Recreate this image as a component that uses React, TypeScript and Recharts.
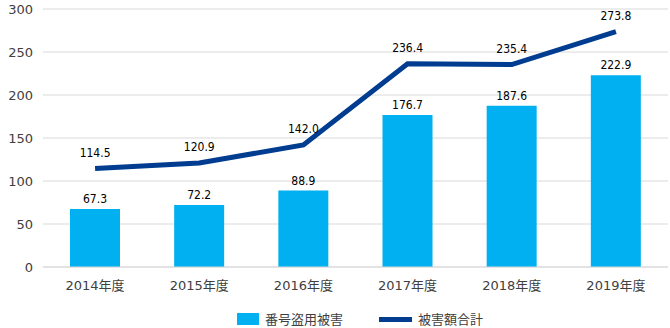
import { ComposedChart, Bar, Line, XAxis, YAxis, CartesianGrid, Legend, LabelList } from "recharts";

const years = ["2014年度", "2015年度", "2016年度", "2017年度", "2018年度", "2019年度"];
const theft = [67.3, 72.2, 88.9, 176.7, 187.6, 222.9];
const total = [114.5, 120.9, 142.0, 236.4, 235.4, 273.8];
const yTicks = [0, 50, 100, 150, 200, 250, 300];

const BAR = "#00B0F0";
const LINE = "#003C8F";
const labelFont = "'DejaVu Sans Condensed', 'Noto Sans CJK JP', sans-serif";

const data = years.map((y, i) => ({ year: y, theft: theft[i], total: total[i] }));

function LegendBox() {
  return (
    <div style={{ display: "flex", justifyContent: "center", gap: 36, paddingLeft: 52, marginTop: 15, lineHeight: "14px", fontSize: 13, color: "#404040", fontFamily: "'Noto Sans CJK JP', sans-serif" }}>
      <span style={{ display: "flex", alignItems: "center", gap: 6 }}>
        <span style={{ width: 22, height: 12, background: BAR, display: "inline-block" }} />
        番号盗用被害
      </span>
      <span style={{ display: "flex", alignItems: "center", gap: 6 }}>
        <span style={{ width: 33, height: 5, background: LINE, display: "inline-block" }} />
        被害額合計
      </span>
    </div>
  );
}

export default function App() {
  return (
    <div style={{ position: "absolute", left: 0, top: 0, width: 670, height: 328, background: "#fff" }}>
      <ComposedChart width={670} height={328} data={data} margin={{ top: 9, right: 2, left: 0, bottom: 0 }}>
        <CartesianGrid vertical={false} stroke="#d9d9d9" />
        <XAxis
          dataKey="year"
          tickLine={false}
          axisLine={{ stroke: "#d9d9d9" }}
          tick={{ fontSize: 13, fill: "#404040", fontFamily: "'DejaVu Sans', 'Noto Sans CJK JP', sans-serif" }}
          tickMargin={8}
          height={30}
        />
        <YAxis
          domain={[0, 300]}
          ticks={yTicks}
          width={43}
          axisLine={false}
          tickLine={false}
          tick={{ fontSize: 13, fill: "#404040", fontFamily: "'DejaVu Sans', sans-serif" }}
          tickMargin={4}
        />
        <Legend verticalAlign="bottom" height={31} content={() => <LegendBox />} />
        <Bar dataKey="theft" fill={BAR} barSize={50} isAnimationActive={false}>
          <LabelList dataKey="theft" position="top" offset={6} formatter={(v: number) => v.toFixed(1)} style={{ fontSize: 12, fill: "#000", fontFamily: labelFont }} />
        </Bar>
        <Line dataKey="total" stroke={LINE} strokeWidth={5} dot={false} isAnimationActive={false}>
          <LabelList dataKey="total" position="top" offset={12} formatter={(v: number) => v.toFixed(1)} style={{ fontSize: 12, fill: "#000", fontFamily: labelFont }} />
        </Line>
      </ComposedChart>
    </div>
  );
}
